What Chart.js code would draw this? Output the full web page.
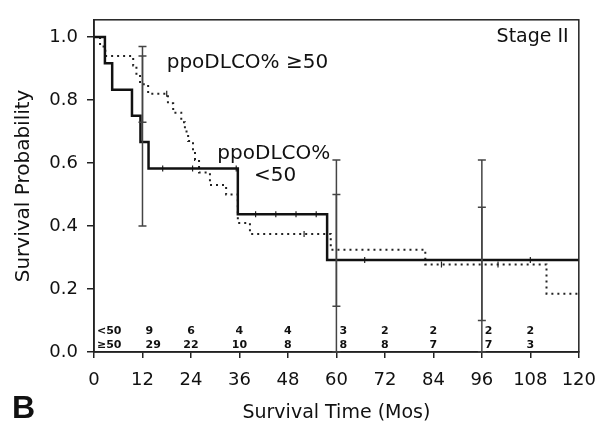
<!DOCTYPE html>
<html>
<head>
<meta charset="utf-8">
<script src="https://cdn.jsdelivr.net/npm/chart.js@4.4.1/dist/chart.umd.min.js"></script>
<style>
  html, body { margin: 0; padding: 0; background: #fff; }
  #wrap { width: 608px; height: 428px; position: relative; }
</style>
</head>
<body>
<div id="wrap"><canvas id="kmChart"></canvas></div>
<script>
// Kaplan-Meier steps: month of each drop and survival after it
var lowTimes = [0, 2.7, 4.5, 9.4, 11.5, 13.5, 35.6, 57.7, 120];
var lowSurv  = [1.0, 0.917, 0.833, 0.75, 0.667, 0.583, 0.4375, 0.292, 0.292];

var highTimes = [0, 1.5, 2.8, 9.7, 10.5, 11.4, 13.4, 18.3, 19.6, 21.6, 22.5, 23.3, 24.5, 25.0, 26.0, 28.7, 32.7, 35.6, 38.6, 58.6, 82.0, 112.0, 120];
var highSurv  = [1.0, 0.97, 0.94, 0.91, 0.88, 0.85, 0.82, 0.79, 0.76, 0.73, 0.70, 0.67, 0.64, 0.61, 0.57, 0.53, 0.50, 0.41, 0.375, 0.325, 0.278, 0.185, 0.185];

// censored observations
var lowCensTimes = [17, 24.4, 35.2, 40, 45, 50, 55, 67, 108];
var lowCensSurv  = [0.583, 0.583, 0.583, 0.4375, 0.4375, 0.4375, 0.4375, 0.292, 0.292];
var highCensTimes = [2.7, 18, 52, 86, 100];
var highCensSurv  = [0.97, 0.82, 0.375, 0.278, 0.278];

// confidence bars
var barTimes  = [12, 60, 96];
var lowBarLo  = [0.40, 0.0, 0.0];
var lowBarHi  = [0.94, 0.61, 0.61];
var highBarLo = [0.73, 0.145, 0.10];
var highBarHi = [0.97, 0.50, 0.46];

// numbers at risk
var riskTimes = [12, 24, 36, 48, 60, 72, 84, 96, 108];
var riskLow   = [9, 6, 4, 4, 3, 2, 2, 2, 2];
var riskHigh  = [29, 22, 10, 8, 8, 8, 7, 7, 3];

var xTicks = [0, 12, 24, 36, 48, 60, 72, 84, 96, 108, 120];
var yTicks = [0, 0.2, 0.4, 0.6, 0.8, 1.0];

function pts(xs, ys) {
  return xs.map(function (x, i) { return { x: x, y: ys[i] }; });
}

var FONT = '"DejaVu Sans", Arial, sans-serif';

var extrasPlugin = {
  id: 'extras',
  afterDatasetsDraw: function (chart) {
    var ctx = chart.ctx;
    var xs = chart.scales.x, ys = chart.scales.y;
    var a = chart.chartArea;
    ctx.save();

    // frame
    ctx.strokeStyle = '#222';
    ctx.lineWidth = 1.5;
    ctx.strokeRect(a.left, a.top, a.right - a.left, a.bottom - a.top);

    // error bars
    ctx.strokeStyle = '#444';
    ctx.lineWidth = 1.5;
    function bar(t, lo, hi) {
      var x = xs.getPixelForValue(t);
      var y1 = ys.getPixelForValue(lo), y2 = ys.getPixelForValue(hi);
      ctx.beginPath();
      ctx.moveTo(x, y1); ctx.lineTo(x, y2);
      ctx.moveTo(x - 4, y1); ctx.lineTo(x + 4, y1);
      ctx.moveTo(x - 4, y2); ctx.lineTo(x + 4, y2);
      ctx.stroke();
    }
    barTimes.forEach(function (t, i) {
      bar(t, lowBarLo[i], lowBarHi[i]);
      bar(t, highBarLo[i], highBarHi[i]);
    });

    // numbers at risk
    ctx.fillStyle = '#111';
    ctx.font = 'bold 11px ' + FONT;
    ctx.textBaseline = 'middle';
    var yLow = ys.getPixelForValue(0.066), yHigh = ys.getPixelForValue(0.022);
    ctx.textAlign = 'left';
    ctx.fillText('<50', xs.getPixelForValue(0) + 3, yLow);
    ctx.fillText('\u226550', xs.getPixelForValue(0) + 3, yHigh);
    riskTimes.forEach(function (t, i) {
      var x = xs.getPixelForValue(t);
      if (barTimes.indexOf(t) >= 0) {
        ctx.textAlign = 'left'; x += 3;
      } else {
        ctx.textAlign = 'center';
      }
      ctx.fillText(String(riskLow[i]), x, yLow);
      ctx.fillText(String(riskHigh[i]), x, yHigh);
    });

    // labels
    ctx.font = '20px ' + FONT;
    ctx.textAlign = 'left';
    ctx.fillText('ppoDLCO% \u226550', xs.getPixelForValue(18), ys.getPixelForValue(0.92));
    ctx.textAlign = 'center';
    ctx.fillText('ppoDLCO%', xs.getPixelForValue(44.5), ys.getPixelForValue(0.63));
    ctx.fillText('<50', xs.getPixelForValue(44.8), ys.getPixelForValue(0.56));
    ctx.font = '19px ' + FONT;
    ctx.textAlign = 'right';
    ctx.fillText('Stage II', xs.getPixelForValue(117.5), ys.getPixelForValue(1.0));

    // panel letter
    ctx.font = 'bold 32px "Liberation Sans", Arial, sans-serif';
    ctx.textAlign = 'left';
    ctx.textBaseline = 'alphabetic';
    ctx.fillText('B', 12, 418);
    ctx.restore();
  }
};

var ctxKm = document.getElementById('kmChart').getContext('2d');

var kmChart = new Chart(ctxKm, {
  type: 'line',
  data: {
    datasets: [{
      label: 'ppoDLCO% <50',
      data: pts(lowTimes, lowSurv),
      stepped: 'before',
      borderColor: '#111',
      borderWidth: 2.5,
      pointRadius: 0,
      fill: false
    }, {
      label: 'ppoDLCO% >=50',
      data: pts(highTimes, highSurv),
      stepped: 'before',
      borderColor: '#222',
      borderWidth: 2,
      borderDash: [2, 4],
      pointRadius: 0,
      fill: false
    }, {
      type: 'scatter',
      label: 'censored <50',
      data: pts(lowCensTimes, lowCensSurv),
      pointStyle: 'line',
      rotation: 90,
      radius: 3,
      borderColor: '#222',
      borderWidth: 1.2
    }, {
      type: 'scatter',
      label: 'censored >=50',
      data: pts(highCensTimes, highCensSurv),
      pointStyle: 'line',
      rotation: 90,
      radius: 3,
      borderColor: '#222',
      borderWidth: 1.2
    }]
  },
  options: {
    responsive: true,
    maintainAspectRatio: false,
    animation: false,
    layout: { padding: { top: 14, right: 27, left: 0, bottom: 0 } },
    plugins: {
      legend: { display: false },
      tooltip: { enabled: false }
    },
    scales: {
      x: {
        type: 'linear',
        min: 0,
        max: 120,
        afterBuildTicks: function (scale) {
          scale.ticks = xTicks.map(function (v) { return { value: v }; });
        },
        afterFit: function (scale) { scale.height = 76; },
        grid: { drawOnChartArea: false, drawTicks: true, tickLength: 6, color: '#222', lineWidth: 1.5 },
        border: { display: true, color: '#222', width: 1.5 },
        ticks: {
          color: '#111',
          padding: 12,
          maxRotation: 0,
          font: { family: FONT, size: 18 }
        },
        title: {
          display: true,
          text: 'Survival Time (Mos)',
          color: '#111',
          font: { family: FONT, size: 19 },
          padding: { top: 0, bottom: 4 }
        }
      },
      y: {
        min: 0,
        max: 1.055,
        afterBuildTicks: function (scale) {
          scale.ticks = yTicks.map(function (v) { return { value: v }; });
        },
        afterFit: function (scale) { scale.width = 94; },
        grid: { drawOnChartArea: false, drawTicks: true, tickLength: 7, color: '#222', lineWidth: 1.5 },
        border: { display: true, color: '#222', width: 1.5 },
        ticks: {
          color: '#111',
          padding: 9,
          font: { family: FONT, size: 18 },
          callback: function (v) { return Number(v).toFixed(1); }
        },
        title: {
          display: true,
          text: 'Survival Probability',
          color: '#111',
          font: { family: FONT, size: 20 },
          padding: { top: 12, bottom: 0 }
        }
      }
    }
  },
  plugins: [extrasPlugin]
});
</script>
</body>
</html>
